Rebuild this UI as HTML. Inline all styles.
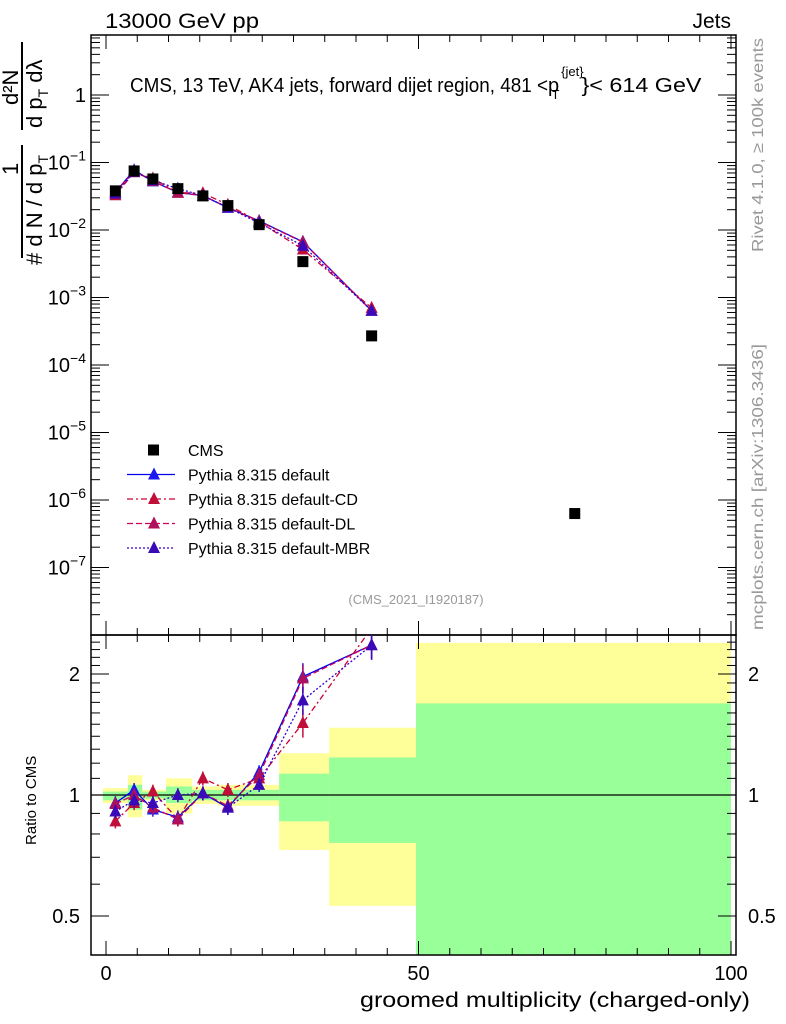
<!DOCTYPE html>
<html><head><meta charset="utf-8"><style>
html,body{margin:0;padding:0;background:#fff}
svg{display:block;font-family:"Liberation Sans",sans-serif}
</style></head><body>
<svg id="c" width="786" height="1024" viewBox="0 0 786 1024" xmlns="http://www.w3.org/2000/svg">
<g id="bands"></g>
<g id="axes"></g>
<g id="series"></g>
<text x="105" y="28" font-size="21" textLength="154" lengthAdjust="spacingAndGlyphs">13000 GeV pp</text>
<text x="731" y="28" font-size="21" text-anchor="end">Jets</text>
<text x="130" y="92" font-size="20"><tspan textLength="418" lengthAdjust="spacingAndGlyphs">CMS, 13 TeV, AK4 jets, forward dijet region, 481 &lt;</tspan><tspan>p</tspan><tspan font-size="13" dy="-16" dx="2">{jet}</tspan><tspan font-size="13" dy="23" dx="-32">T</tspan><tspan dy="-7" dx="22" textLength="120" lengthAdjust="spacingAndGlyphs">}&lt; 614 GeV</tspan></text>
<text x="416" y="604" font-size="13" fill="#999" text-anchor="middle">(CMS_2021_I1920187)</text>
<text transform="translate(763,252) rotate(-90)" font-size="16" fill="#999" textLength="214" lengthAdjust="spacingAndGlyphs">Rivet 4.1.0, ≥ 100k events</text>
<text transform="translate(763,630) rotate(-90)" font-size="16" fill="#999" textLength="286" lengthAdjust="spacingAndGlyphs">mcplots.cern.ch [arXiv:1306.3436]</text>
<g font-size="22">
<line x1="22" y1="42" x2="22" y2="130" stroke="#000" stroke-width="2"/>
<line x1="22" y1="145" x2="22" y2="258" stroke="#000" stroke-width="2"/>
<text transform="translate(18,105) rotate(-90)">d²N</text>
<text transform="translate(18,175) rotate(-90)">1</text>
<text transform="translate(42,128) rotate(-90)">d p<tspan font-size="14" dy="6">T</tspan><tspan dy="-6"> dλ</tspan></text>
<text transform="translate(42,265) rotate(-90)"># d N / d p<tspan font-size="14" dy="6">T</tspan></text>
</g>
<text transform="translate(36,845) rotate(-90)" font-size="15">Ratio to CMS</text>
<text x="360" y="1007" font-size="21" textLength="390" lengthAdjust="spacingAndGlyphs">groomed multiplicity (charged-only)</text>
<g id="legend"></g>
</svg>
<script>
const xCenters=[1.5,4.5,7.5,11.5,15.5,19.5,24.5,31.5,42.5,75];
const cmsValues=[0.038,0.075,0.057,0.041,0.032,0.023,0.012,0.0034,0.00027,6.3e-7];
const mcCenters=[1.5,4.5,7.5,11.5,15.5,19.5,24.5,31.5,42.5];
const ratioDefault=[0.955,1.03,0.92,0.88,1.01,0.93,1.14,1.97,2.36];
const ratioCD=[0.86,0.955,1.02,0.87,1.10,1.03,1.10,1.51,2.6];
const ratioDL=[0.95,1.0,0.93,0.87,1.01,0.94,1.12,1.95,2.36];
const ratioMBR=[0.91,0.97,0.955,1.0,1.01,0.93,1.06,1.72,2.36];
const binEdges=[-0.5,3.5,5.8,9.6,13.8,17.8,21.9,27.7,35.7,49.6,100];
const yellowHi=[1.04,1.12,1.03,1.10,1.05,1.06,1.06,1.27,1.47,2.39];
const yellowLo=[0.955,0.88,0.97,0.90,0.95,0.94,0.94,0.73,0.53,0.3];
const greenHi=[1.02,1.06,1.02,1.05,1.03,1.03,1.03,1.13,1.24,1.69];
const greenLo=[0.97,0.92,0.98,0.955,0.97,0.97,0.97,0.86,0.76,0.3];
const xTicks=[0,50,100];
const mainTicks=[0,-1,-2,-3,-4,-5,-6,-7];
const ratioTicks=[2,1,0.5];

const NS="http://www.w3.org/2000/svg";
const L=91,R=736,T=35,MB=635,RB=955;
const X=v=>106+v*6.25;
const Y=v=>95-(Math.log10(v))*67.5;
const YR=r=>Math.max(T+600,Math.min(RB,795-Math.log10(r)*402));
function mk(tag,parent,attrs){const e=document.createElementNS(NS,tag);for(const k in attrs)e.setAttribute(k,attrs[k]);document.getElementById(parent).appendChild(e);return e;}

for(let i=0;i<yellowHi.length;i++){
  const x1=X(binEdges[i]),x2=Math.min(X(binEdges[i+1]),R);
  const y=mk('rect','bands',{x:x1,y:YR(yellowHi[i]),width:x2-x1,height:YR(yellowLo[i])-YR(yellowHi[i]),fill:'#ffff99'});
  
  
  const g=mk('rect','bands',{x:x1,y:YR(greenHi[i]),width:x2-x1,height:YR(greenLo[i])-YR(greenHi[i]),fill:'#99ff99'});
  
  
}
mk('rect','axes',{x:L,y:T,width:R-L,height:MB-T,fill:'none',stroke:'#000','stroke-width':1.5});
mk('rect','axes',{x:L,y:MB,width:R-L,height:RB-MB,fill:'none',stroke:'#000','stroke-width':1.5});
mk('line','axes',{x1:L,x2:R,y1:795,y2:795,stroke:'#000','stroke-width':1.2});
for(let v=0;v<=100;v+=5){
  const len=v%50===0?14:7;
  for(const [yb,dir] of [[T,1],[MB,-1],[MB,1],[RB,-1]]){
    mk('line','axes',{x1:X(v),x2:X(v),y1:yb,y2:yb+dir*len,stroke:'#000','stroke-width':1});
  }
}
xTicks.forEach(v=>{const t=mk('text','axes',{x:X(v),y:980,'font-size':20,'text-anchor':'middle'});t.textContent=v;

});
for(let d=0;d>=-8;d--){
  for(let m=1;m<10;m++){
    const v=m*Math.pow(10,d);const y=Y(v);if(y<T||y>MB)continue;
    const len=m===1?18:9;
    mk('line','axes',{x1:L,x2:L+len,y1:y,y2:y,stroke:'#000','stroke-width':1});
    mk('line','axes',{x1:R,x2:R-len,y1:y,y2:y,stroke:'#000','stroke-width':1});
  }
}
mainTicks.forEach(d=>{const t=mk('text','axes',{x:86,y:Y(Math.pow(10,d))+7,'font-size':20,'text-anchor':'end'});


if(d===0)t.textContent='1';else{t.innerHTML='10<tspan font-size="14" dy="-9">'+('−'+(-d))+'</tspan>';}});
for(let r=0.4;r<=2.5;r+=0.1){const y=YR(r);if(y<=MB||y>=RB)continue;
  const major=ratioTicks.some(t=>Math.abs(t-r)<1e-6);const len=major?18:9;
  mk('line','axes',{x1:L,x2:L+len,y1:y,y2:y,stroke:'#000','stroke-width':1});
  mk('line','axes',{x1:R,x2:R-len,y1:y,y2:y,stroke:'#000','stroke-width':1});}
ratioTicks.forEach(r=>{
  const a=mk('text','axes',{x:80,y:YR(r)+7,'font-size':20,'text-anchor':'end'});a.textContent=r;
  
  
  const b=mk('text','axes',{x:748,y:YR(r)+7,'font-size':20});b.textContent=r;
  
  });

const series=[
 {name:'default',r:ratioDefault,color:'#0000ee',dash:'',tri:'#1a1aee'},
 {name:'default-CD',r:ratioCD,color:'#cc0033',dash:'6,3,2,3',tri:'#c0103a'},
 {name:'default-DL',r:ratioDL,color:'#cc0055',dash:'6,3',tri:'#b0105a'},
 {name:'default-MBR',r:ratioMBR,color:'#3300cc',dash:'2,2',tri:'#3a0ab8'}];
function tri(cx,cy,c,nm){const p=mk('polygon','series',{points:`${cx},${cy-7} ${cx-6},${cy+5} ${cx+6},${cy+5}`,fill:c});

}
series.forEach(s=>{
  let pm='',pr='';
  mcCenters.forEach((x,i)=>{const v=cmsValues[i]*s.r[i];pm+=(i?'L':'M')+X(x)+','+Y(v);pr+=(i?'L':'M')+X(x)+','+(795-Math.log10(s.r[i])*402);});
  const a=mk('path','series',{d:pm,fill:'none',stroke:s.color,'stroke-width':1.3,'stroke-dasharray':s.dash});
  
  
  const b=mk('path','series',{d:pr,fill:'none',stroke:s.color,'stroke-width':1.3,'stroke-dasharray':s.dash,'clip-path':'url(#rc)'});
  
  
  mcCenters.forEach((x,i)=>{
    tri(X(x),Y(cmsValues[i]*s.r[i]),s.tri,'main-marker-'+s.name);
    const yr=795-Math.log10(s.r[i])*402;
    if(yr>MB+4){
      const e=i>=7?0.08:0.04;
      mk('line','series',{x1:X(x),x2:X(x),y1:YR(s.r[i]*(1+e)),y2:YR(s.r[i]*(1-e)),stroke:s.tri,'stroke-width':1.5});
      tri(X(x),yr,s.tri,'ratio-marker-'+s.name);
    }
  });
});
const cp=document.createElementNS(NS,'clipPath');cp.setAttribute('id','rc');
const cr=document.createElementNS(NS,'rect');cr.setAttribute('x',L);cr.setAttribute('y',MB);cr.setAttribute('width',R-L);cr.setAttribute('height',RB-MB);
cp.appendChild(cr);document.getElementById('c').appendChild(cp);
xCenters.forEach((x,i)=>{const r=mk('rect','series',{x:X(x)-5.5,y:Y(cmsValues[i])-5.5,width:11,height:11,fill:'#000'});

});
const leg=[['CMS',null],['Pythia 8.315 default',series[0]],['Pythia 8.315 default-CD',series[1]],['Pythia 8.315 default-DL',series[2]],['Pythia 8.315 default-MBR',series[3]]];
leg.forEach((l,i)=>{const y=450+i*24.5;
  const t=mk('text','legend',{x:188,y:y+6,'font-size':16});t.textContent=l[0];
  
  
  if(!l[1]){mk('rect','legend',{x:148,y:y-5.5,width:11,height:11,fill:'#000'});}
  else{mk('line','legend',{x1:127,x2:175,y1:y,y2:y,stroke:l[1].color,'stroke-width':1.3,'stroke-dasharray':l[1].dash});
    mk('polygon','legend',{points:`154,${y-7} 148,${y+5} 160,${y+5}`,fill:l[1].tri});}
});
</script>
</body></html>
